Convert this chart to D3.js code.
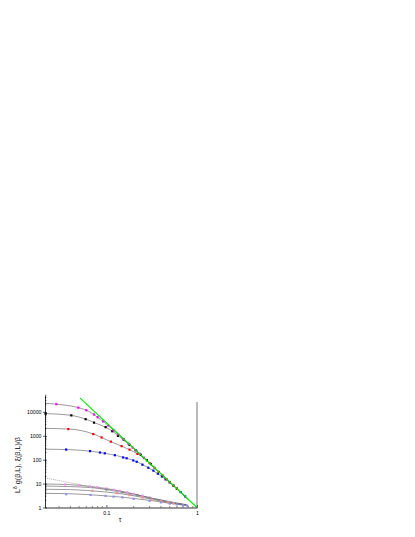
<!DOCTYPE html>
<html><head><meta charset="utf-8">
<script src="https://cdn.jsdelivr.net/npm/d3@7"></script>
<style>body{margin:0;background:#fff}svg{display:block}</style>
</head><body>
<svg id="c" width="415" height="537"></svg>
<script>
// ---------- axis ticks ----------
const xTicks = [0.1, 1];
const xTickLabels = ["0.1", "1"];
const yTicks = [1, 10, 100, 1000, 10000];
const yTickLabels = ["1", "10", "100", "1000", "10000"];
const xLabel = "τ";

// ---------- reference lines ----------
const greenTau = [0.051, 1];
const greenVal = [38700, 1];
const dottedTau = [0.021, 0.8];
const dottedVal = [17.4, 1.18];

// ---------- upper fits: xi(beta,L)/beta ----------
const magFitTau = [0.021, 0.03, 0.05, 0.06, 0.07, 0.08, 0.09, 0.1, 0.12, 0.14, 0.17, 0.2, 0.25, 0.32, 0.4, 0.5, 0.65, 0.8];
const magFitVal = [23000, 20500, 14800, 11800, 8600, 6000, 4300, 3100, 1700, 1000, 520, 295, 135, 56, 25.5, 11.6, 4.55, 2.2];
const blkFitTau = [0.021, 0.04, 0.06, 0.075, 0.1, 0.12, 0.14, 0.17, 0.2, 0.25, 0.32, 0.4, 0.5, 0.65, 0.8];
const blkFitVal = [8500, 7200, 4900, 3450, 2200, 1450, 900, 500, 290, 135, 56, 25.5, 11.6, 4.55, 2.2];
const redFitTau = [0.021, 0.04, 0.07, 0.09, 0.11, 0.14, 0.17, 0.2, 0.24, 0.28, 0.32, 0.4, 0.5, 0.65, 0.8];
const redFitVal = [2050, 1900, 1230, 830, 580, 400, 290, 215, 145, 90, 56, 25.5, 11.6, 4.55, 2.2];
const bluFitTau = [0.021, 0.04, 0.07, 0.1, 0.13, 0.16, 0.2, 0.24, 0.28, 0.32, 0.37, 0.42, 0.48, 0.55, 0.65, 0.8];
const bluFitVal = [275, 262, 222, 180, 148, 120, 92, 68, 50, 37, 26, 18.5, 12.8, 8.2, 4.6, 2.2];

// ---------- upper markers ----------
const magTau = [0.028, 0.049, 0.060, 0.073, 0.080, 0.092, 0.105, 0.12, 0.135, 0.155, 0.175, 0.195, 0.215, 0.235, 0.26];
const magVal = [21000, 15000, 11700, 7800, 6000, 4000, 2700, 1700, 1150, 720, 470, 320, 235, 175, 120];
const blkTau = [0.0213, 0.041, 0.059, 0.073, 0.098, 0.116, 0.134, 0.155, 0.18, 0.21, 0.24, 0.28, 0.31];
const blkVal = [8400, 7150, 4950, 3550, 2300, 1550, 1000, 700, 420, 250, 160, 95, 65];
const redTau = [0.038, 0.0715, 0.0885, 0.112, 0.147, 0.18, 0.22, 0.26, 0.3, 0.34, 0.38, 0.42, 0.46, 0.5, 0.55, 0.6];
const redVal = [1910, 1180, 850, 570, 370, 265, 175, 118, 72, 46, 31, 21.5, 15.5, 11.5, 8.2, 6.2];
const bluTau = [0.036, 0.066, 0.085, 0.096, 0.124, 0.153, 0.167, 0.198, 0.216, 0.25, 0.29, 0.33, 0.37, 0.41, 0.45, 0.5, 0.55, 0.6, 0.66, 0.74];
const bluVal = [265, 228, 200, 185, 154, 124, 115, 93, 82, 62, 46, 35, 26, 19.8, 15, 11.2, 8.2, 6.1, 4.4, 2.9];

// ---------- lower fits: L^δ g(β,L) ----------
const lowTau = [0.021, 0.04, 0.06, 0.095, 0.15, 0.22, 0.33, 0.5, 0.77];
const low1Val = [9.6, 9.0, 7.9, 6.4, 4.7, 3.4, 2.4, 1.75, 1.3];
const low2Val = [7.9, 7.5, 7.0, 5.9, 4.4, 3.3, 2.35, 1.7, 1.28];
const low3Val = [5.8, 5.6, 5.2, 4.5, 3.7, 2.9, 2.15, 1.6, 1.25];
const low4Val = [3.9, 3.75, 3.5, 3.1, 2.7, 2.3, 1.9, 1.5, 1.2];

// ---------- lower markers ----------
const magLowTau = [0.035, 0.05, 0.066, 0.08, 0.1, 0.12, 0.14, 0.17, 0.2, 0.25, 0.3];
const magLowVal = [9.2, 8.5, 7.6, 7.0, 6.2, 5.5, 5.0, 4.3, 3.7, 3.1, 2.6];
const blkLowTau = [0.1, 0.15, 0.22, 0.3];
const blkLowVal = [5.6, 4.4, 3.3, 2.5];
const redLowTau = [0.07, 0.13, 0.18, 0.25, 0.32, 0.4, 0.48, 0.55];
const redLowVal = [5.0, 4.0, 3.3, 2.6, 2.15, 1.85, 1.65, 1.5];
const bluLowTau = [0.036, 0.067, 0.098, 0.12, 0.15, 0.2, 0.3, 0.4, 0.5, 0.6, 0.7, 0.78];
const bluLowVal = [3.6, 3.35, 3.05, 2.85, 2.65, 2.3, 1.9, 1.65, 1.45, 1.35, 1.25, 1.2];

const zip = (a, b) => a.map((t, i) => [t, b[i]]);

const svg = d3.select("#c");
const x = d3.scaleLog().domain([0.021, 1]).range([45, 197]);
const y = d3.scaleLog().domain([1, 50000]).range([507.5, 395.2]);
const FONT = "Liberation Sans, Arial, sans-serif";

const line = d3.line().x(d => x(d[0])).y(d => y(d[1])).curve(d3.curveMonotoneX);

// fits
const fitColor = "#555";
[[magFitTau, magFitVal], [blkFitTau, blkFitVal], [redFitTau, redFitVal], [bluFitTau, bluFitVal],
 [lowTau, low1Val], [lowTau, low2Val], [lowTau, low3Val], [lowTau, low4Val]].forEach(([t, v]) => {
  svg.append("path").attr("d", line(zip(t, v))).attr("fill", "none")
    .attr("stroke", fitColor).attr("stroke-width", 0.6);
});
svg.append("path").attr("d", d3.line().x(d => x(d[0])).y(d => y(d[1]))(zip(dottedTau, dottedVal)))
  .attr("fill", "none").attr("stroke", "#777").attr("stroke-width", 0.6).attr("stroke-dasharray", "1,1");

// markers
function marks(t, v, color, s) {
  svg.append("g").selectAll("rect").data(zip(t, v)).join("rect")
    .attr("x", d => x(d[0]) - s / 2).attr("y", d => y(d[1]) - s / 2)
    .attr("width", s).attr("height", s).attr("fill", color);
}
marks(magLowTau, magLowVal, "#f08cf0", 2.2);
marks(blkLowTau, blkLowVal, "#888", 2.2);
marks(redLowTau, redLowVal, "#f09090", 2.2);
marks(bluLowTau, bluLowVal, "#9090f0", 2.2);
marks(bluTau, bluVal, "#0000ff", 2.2);
marks(redTau, redVal, "#ff0000", 2.2);
marks(blkTau, blkVal, "#000000", 2.2);
marks(magTau, magVal, "#ff00ff", 2.2);

// green power law
svg.append("path").attr("d", d3.line().x(d => x(d[0])).y(d => y(d[1]))(zip(greenTau, greenVal)))
  .attr("fill", "none").attr("stroke", "#00ee00").attr("stroke-width", 1.1);

// axes
const gx = svg.append("g").attr("transform", "translate(0,507.5)");
gx.call(d3.axisBottom(x).tickValues(xTicks).tickFormat((d, i) => xTickLabels[i]).tickSize(-2.5).tickSizeOuter(0).tickPadding(4));
const xMinor = [];
for (let k = 3; k <= 9; k++) xMinor.push(k / 100);
for (let k = 2; k <= 9; k++) xMinor.push(k / 10);
gx.selectAll(".minor").data(xMinor).join("line").attr("class", "minor")
  .attr("x1", d => x(d)).attr("x2", d => x(d)).attr("y1", 0).attr("y2", -1.5)
  .attr("stroke", "#000").attr("stroke-width", 0.5);

const gy = svg.append("g").attr("transform", "translate(45,0)");
gy.call(d3.axisLeft(y).tickValues(yTicks).tickFormat((d, i) => yTickLabels[i]).tickSize(2).tickSizeOuter(0).tickPadding(1.5));
gy.selectAll(".tick line").clone().attr("x2", 2);
const yMinor = [];
[1, 10, 100, 1000, 10000].forEach(b => { for (let k = 2; k <= 9; k++) if (b * k <= 50000) yMinor.push(b * k); });
gy.selectAll(".minor").data(yMinor).join("line").attr("class", "minor")
  .attr("x1", 0).attr("x2", 1.5).attr("y1", d => y(d)).attr("y2", d => y(d))
  .attr("stroke", "#000").attr("stroke-width", 0.5);

[gx, gy].forEach(g => {
  g.selectAll(".domain").attr("stroke", "#000").attr("stroke-width", 0.8);
  g.selectAll(".tick line").attr("stroke", "#000").attr("stroke-width", 0.6);
  g.selectAll("text").attr("font-family", FONT).attr("font-size", 5.2).attr("fill", "#000");
});

// right frame line
svg.append("line").attr("x1", x(1)).attr("x2", x(1)).attr("y1", 402).attr("y2", 507.5)
  .attr("stroke", "#555").attr("stroke-width", 0.8);

// labels
svg.append("text").attr("x", 120).attr("y", 522).attr("text-anchor", "middle")
  .attr("font-family", FONT).attr("font-size", 6.5).text(xLabel);

const yl = svg.append("text").attr("transform", "translate(20,465) rotate(-90)")
  .attr("text-anchor", "middle").attr("font-family", FONT).attr("font-size", 7.2);
yl.append("tspan").text("L");
yl.append("tspan").attr("dy", -3).attr("font-size", 5).text("δ");
yl.append("tspan").attr("dy", 3).text(" g(β,L), ξ(β,L)/β");
</script>
</body></html>
